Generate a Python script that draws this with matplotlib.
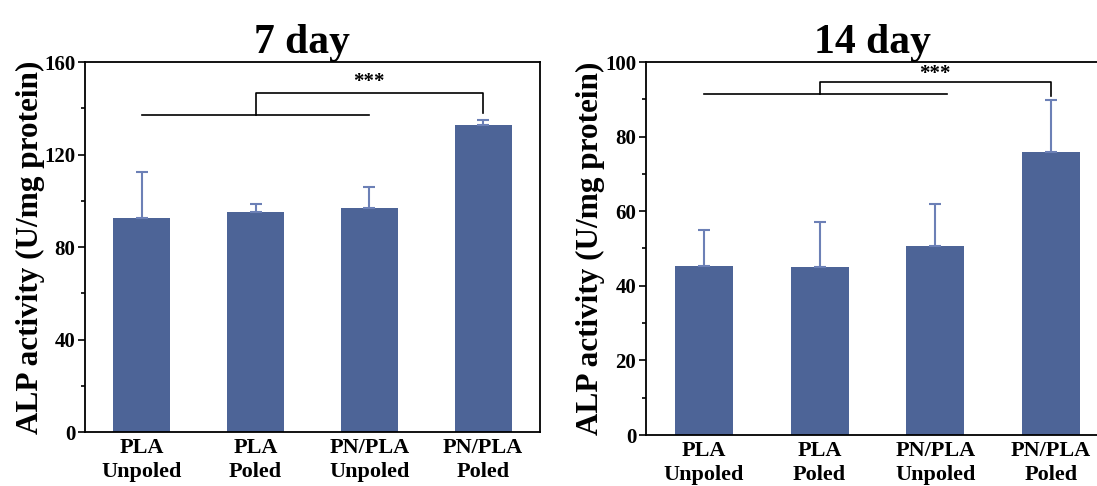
import matplotlib
matplotlib.use("Agg")
import matplotlib.pyplot as plt
from matplotlib.ticker import MultipleLocator

categories = ["PLA\nUnpoled", "PLA\nPoled", "PN/PLA\nUnpoled", "PN/PLA\nPoled"]
day7_mean = [92.5, 95.1, 97.0, 132.8]
day7_err = [19.8, 3.5, 9.0, 2.2]
day14_mean = [45.3, 45.0, 50.6, 75.8]
day14_err = [9.7, 12.0, 11.4, 14.0]

plt.rcParams['font.family'] = ['Liberation Serif', 'DejaVu Serif']
plt.rcParams['font.weight'] = 'bold'

fig = plt.figure(figsize=(10.97, 4.86), dpi=100)
W, H = 1097, 486
bar_color = "#4D6497"
err_color = "#6C80B6"

def make_ax(x0, x1, y0, y1):
    return fig.add_axes([x0 / W, 1 - y1 / H, (x1 - x0) / W, (y1 - y0) / H])

def draw(ax, means, errs, ylim, major, minor, title, title_x, brk):
    x = range(len(categories))
    ax.bar(x, means, width=0.5, color=bar_color, zorder=2)
    ax.errorbar(x, means, yerr=[[0] * len(errs), errs], fmt='none', ecolor=err_color,
                elinewidth=1.5, capsize=4, capthick=1.5, zorder=3)
    ax.set_xlim(-0.5, 3.5)
    ax.set_ylim(*ylim)
    ax.yaxis.set_major_locator(MultipleLocator(major))
    ax.yaxis.set_minor_locator(MultipleLocator(minor))
    ax.tick_params(axis='y', which='major', direction='out', length=5, width=1.2,
                   labelsize=15, pad=2)
    ax.tick_params(axis='y', which='minor', direction='out', length=3, width=1.2)
    ax.tick_params(axis='x', length=0, labelsize=16, pad=4)
    ax.set_xticks(list(x))
    ax.set_xticklabels(categories, fontweight='bold', linespacing=1.3)
    for lab in ax.get_yticklabels():
        lab.set_fontweight('bold')
    for s in ax.spines.values():
        s.set_linewidth(1.3)
    ax.set_ylabel("ALP activity (U/mg protein)", fontsize=22.5, fontweight='bold')
    ax.yaxis.set_label_coords(-0.088, 0.5)
    ax.set_title(title, fontsize=30, fontweight='bold', pad=5, x=title_x)
    y_low, y_high, y_end, x_left, x_right, x_mid, x_tgt, star_x, star_y = brk
    ax.plot([x_left, x_right], [y_low, y_low], color='black', lw=1.2)
    ax.plot([x_mid, x_mid, x_tgt, x_tgt], [y_low, y_high, y_high, y_end], color='black', lw=1.2)
    ax.text(star_x, star_y, "***", ha='center', va='center', fontsize=15, fontweight='bold')

ax1 = make_ax(85, 540, 62, 432)
draw(ax1, day7_mean, day7_err, (0, 160), 40, 20, "7 day", 0.477,
     (137, 146.5, 138, 0, 2, 1, 3, 2.0, 151.2))

ax2 = make_ax(646, 1109, 62, 435)
draw(ax2, day14_mean, day14_err, (0, 100), 20, 10, "14 day", 0.49,
     (91.4, 94.6, 90.8, 0, 2.1, 1, 3, 2.0, 96.9))

fig.savefig("out.png", dpi=100)
